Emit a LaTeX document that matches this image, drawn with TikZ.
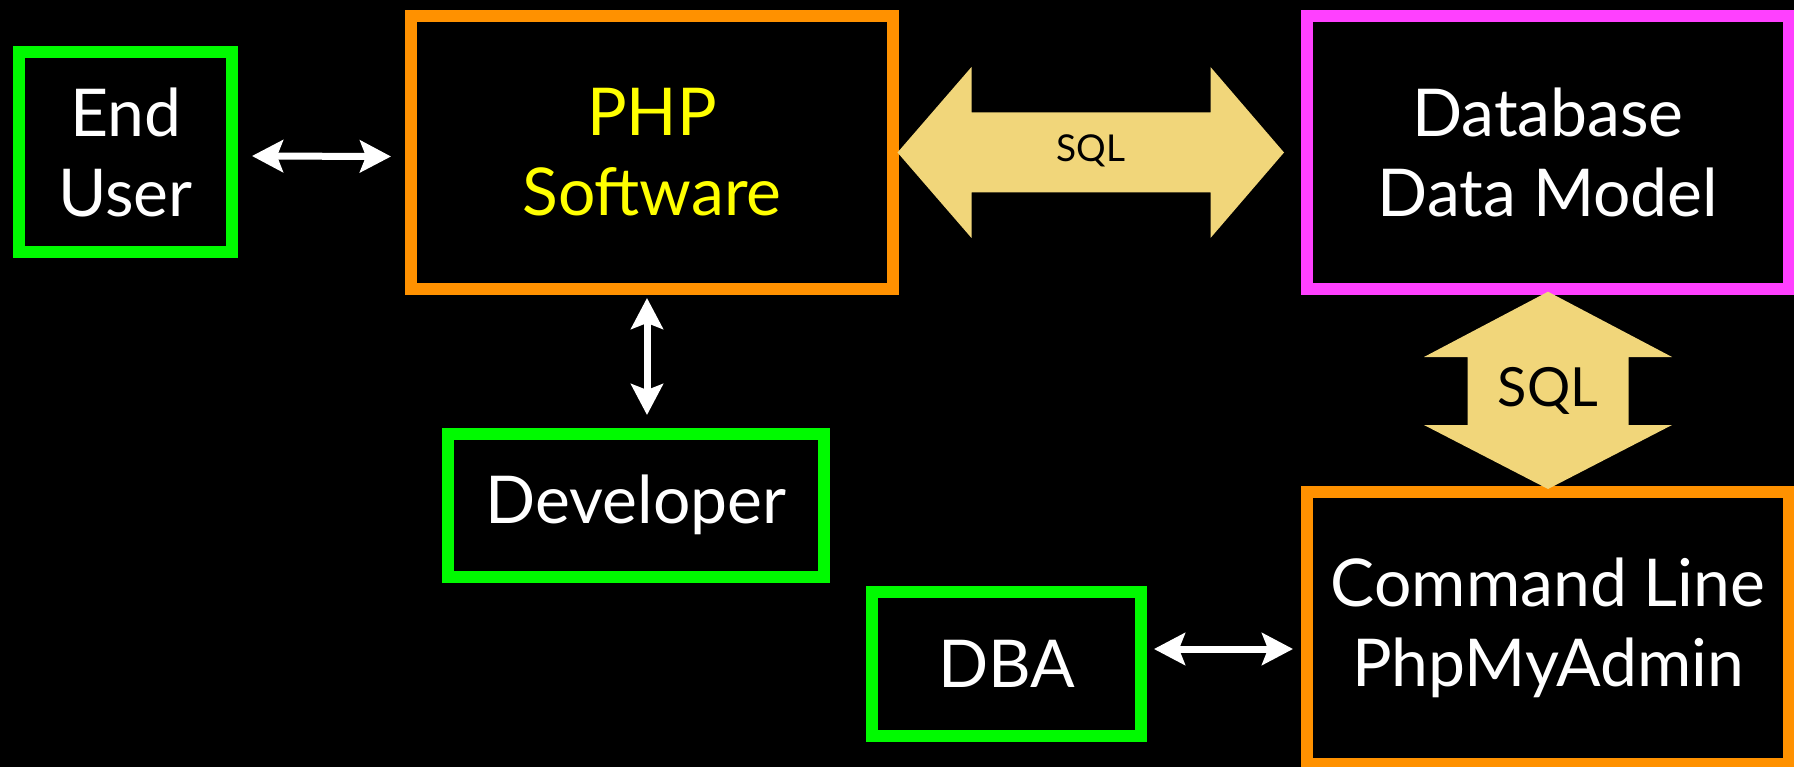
\documentclass[tikz,border=0pt]{standalone}
\usepackage{fontspec}
\setmainfont{Lato}
\usetikzlibrary{arrows.meta,calc}
\definecolor{actorgreen}{RGB}{0,250,0}
\definecolor{apporange}{RGB}{255,145,0}
\definecolor{dbpink}{RGB}{255,64,255}
\definecolor{phpyellow}{RGB}{255,255,0}
\definecolor{sqlsand}{RGB}{241,214,122}
\tikzset{
	box/.style={draw,line width=12pt,align=center,text=white,inner sep=0pt,font=\fontsize{66}{80}\selectfont},
	actor/.style={box,draw=actorgreen},
	link/.style={<->,white,line width=7pt},
	sqlarrow/.style={fill=sqlsand},
	sqltext/.style={text=black,inner sep=0pt}
}
\begin{document}
\begin{tikzpicture}[x=1pt,y=-1pt,>={Stealth[length=31pt,width=32pt,inset=6pt]}]
	\fill[black] (0,0) rectangle (1794,767);
	\useasboundingbox (0,0) rectangle (1794,767);
	% boxes
	\node[actor,minimum width=213pt,minimum height=200pt] (user) at (125.5,152) {End\\User};
	\node[box,draw=apporange,text=phpyellow,minimum width=482pt,minimum height=273pt] (php) at (652,152.5) {PHP\\Software};
	\node[box,draw=dbpink,minimum width=482pt,minimum height=273pt] (db) at (1548,152.5) {Database\\Data Model};
	\node[actor,minimum width=375.5pt,minimum height=143pt] (dev) at (636,505) {Developer};
	\node[actor,minimum width=269pt,minimum height=143.5pt] (dba) at (1006.5,664) {DBA};
	\node[box,draw=apporange,minimum width=482pt,minimum height=272pt] (cli) at (1548,628) {Command Line\\PhpMyAdmin};
	% thin arrows
	\draw[link] ($(user.east)+(14,4)$) -- ($(php.west)+(-14,4)$);
	\draw[link] ($(php.south)+(-5,3)$) -- ($(php.south |- dev.north)+(-5,-12.5)$);
	\draw[link] ($(dba.east)+(7,-15)$) -- ($(cli.west |- dba.east)+(-8,-15)$);
	% fat SQL arrows
	\fill[sqlarrow] ($(php.east)+(-1.5,0)$) coordinate (h1) -- ++(74,-85.5) -- ++(0,45.5) -- ++(239,0) -- ++(0,-45.5)
		-- ++(73.5,85.5) -- ++(-73.5,85.5) -- ++(0,-45.5) -- ++(-239,0) -- ++(0,45.5) -- cycle;
	\node[sqltext,font=\fontsize{37}{42}\selectfont] (sqlh) at ($(h1)+(193.5,-2)$) {SQL};
	\fill[sqlarrow] ($(db.south)+(0,-3.3)$) coordinate (v1) -- ++(124,65.3) -- ++(-43.5,0) -- ++(0,68) -- ++(43.5,0)
		-- ++(-124,64) -- ++(-124,-64) -- ++(43.5,0) -- ++(0,-68) -- ++(-43.5,0) -- cycle;
	\node[sqltext,font=\fontsize{54}{60}\selectfont] (sqlv) at ($(v1)+(0,99.5)$) {SQL};
\end{tikzpicture}
\end{document}
